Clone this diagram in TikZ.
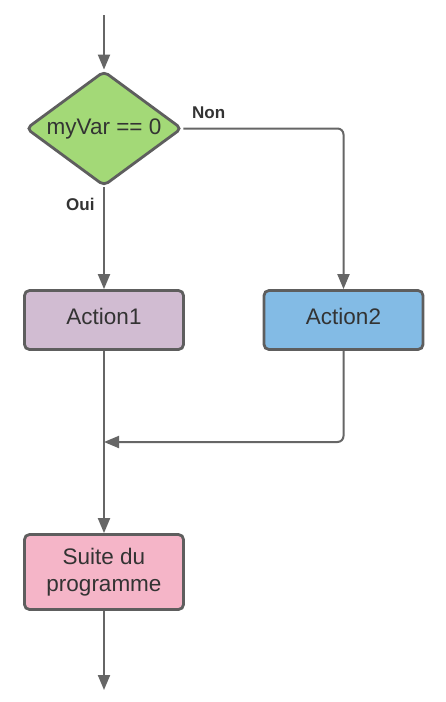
\documentclass[tikz,border=0pt]{standalone}
\usepackage{fontspec}
\setmainfont{Liberation Sans}
\usetikzlibrary{shapes.geometric,arrows.meta}
\definecolor{bordercol}{HTML}{5E5E5E}
\definecolor{linecol}{HTML}{666666}
\definecolor{textcol}{HTML}{333333}
\definecolor{greenfill}{HTML}{A3D977}
\definecolor{purplefill}{HTML}{D1BCD2}
\definecolor{bluefill}{HTML}{83BBE5}
\definecolor{pinkfill}{HTML}{F5B5C8}
\begin{document}
\begin{tikzpicture}[x=1pt,y=-1pt,
  boxnode/.style={draw=bordercol, line width=2.8pt, rounded corners=5pt,
    minimum width=159pt, minimum height=59pt, inner sep=0pt,
    font=\fontsize{22.5}{27}\selectfont, text=textcol, align=center},
  onetext/.style={text height=16pt, text depth=7pt},
  decision/.style={diamond, draw=bordercol, line width=2.8pt, rounded corners=5pt,
    minimum width=156pt, minimum height=115pt, inner sep=0pt, fill=greenfill,
    font=\fontsize{22.5}{27}\selectfont, text=textcol},
  conn/.style={draw=linecol, line width=2pt, -{Triangle[length=15pt,width=12pt]}},
  plainconn/.style={draw=linecol, line width=2pt},
  lbl/.style={font=\fontsize{17}{19}\selectfont\bfseries, text=textcol, inner sep=0pt}
]
\useasboundingbox (0,0) rectangle (445,702);
\fill[white] (0,0) rectangle (445,702);

\coordinate (start) at (104,15);
\node[decision] (dec) at (104,128.5) {\makebox[0pt]{\raisebox{1.5pt}{myVar == 0}}};
\node[boxnode, onetext, fill=purplefill] (a1) at (104,320) {Action1};
\node[boxnode, onetext, fill=bluefill] (a2) at (343.5,320) {Action2};
\node[boxnode, fill=pinkfill, minimum height=75pt] (suite) at (104,572) {Suite du\\programme};
\coordinate (merge) at (104,442);
\coordinate (end) at (104,690);
\coordinate (turn1) at (343.5,128.5);
\coordinate (turn2) at (343.5,442);

\draw[conn] (start) -- (dec.north);
\draw[conn] (dec.south) -- (a1.north);
\draw[conn, rounded corners=6pt] (dec.east) -- (turn1) -- (a2.north);
\draw[plainconn] (a1.south) -- (merge);
\draw[conn] (merge) -- (suite.north);
\draw[conn, rounded corners=6pt] (a2.south) -- (turn2) -- (merge);
\draw[conn] (suite.south) -- (end);

\node[lbl, anchor=base west] (non) at (192,118) {Non};
\node[lbl, anchor=base west] (oui) at (66,210) {Oui};
\end{tikzpicture}
\end{document}
